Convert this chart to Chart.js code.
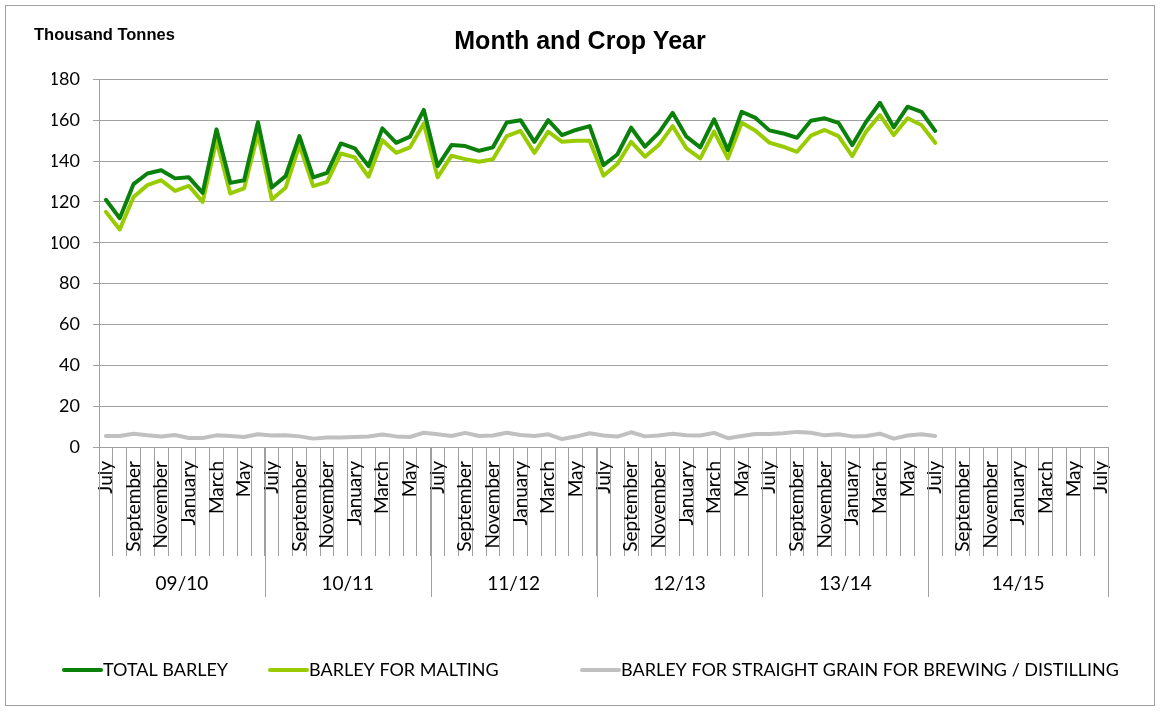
<!DOCTYPE html>
<html><head><meta charset="utf-8">
<script src="https://cdn.jsdelivr.net/npm/chart.js@4.4.0/dist/chart.umd.min.js"></script>
<style>html,body{margin:0;padding:0;background:#fff;}canvas{display:block;}</style>
</head><body>
<canvas id="c" width="1160" height="711"></canvas>
<script>
const cropYears = ['09/10','10/11','11/12','12/13','13/14','14/15'];
const monthNames = ['July','August','September','October','November','December','January','February','March','April','May','June'];
const monthsPerYear = [12,12,12,12,12,13];
const totalBarley = [121,112,128.7,133.9,135.5,131.5,132,124.4,155.5,129.3,130.6,159,
  127,132.6,152.2,132,134.2,148.6,146.2,137.5,156,148.9,151.9,165,
  137.5,147.8,147.3,145,146.7,158.9,160,149.4,160,152.7,155.2,157.1,
  138,143.2,156.3,147,153.8,163.6,151.9,146.7,160.4,145.3,164.1,161.1,
  155,153.5,151.4,159.7,160.9,158.7,147.8,159.2,168.5,156.5,166.6,164.1,
  154.7];
const maltingBarley = [115.1,106.5,122.4,128.2,130.6,125.4,127.8,120,150.2,124.1,126.6,153.5,
  121.2,126.9,147.8,127.7,129.8,143.7,141.8,132.3,150.2,144,146.7,158.4,
  132,142.6,140.9,139.6,140.9,152.2,154.7,144,154.4,149.4,149.9,149.9,
  132.8,138.5,149.4,142.1,147.8,157.1,146.2,141.3,154.4,141.3,158.7,154.8,
  149,147,144.5,152.4,155.2,152.2,142.4,154.4,162.5,152.7,160.9,157.6,
  148.9];
const straightGrain = [5.4,5.4,6.5,5.7,5.1,5.9,4.4,4.4,5.7,5.4,4.9,6.2,
  5.6,5.7,5.2,4.1,4.6,4.7,4.9,5.1,6.1,5.2,4.9,7.0,
  6.2,5.4,6.9,5.4,5.6,7.0,5.9,5.4,6.2,3.9,5.1,6.7,
  5.6,5.1,7.2,5.2,5.6,6.5,5.7,5.6,6.9,4.3,5.4,6.4,
  6.4,6.7,7.4,7.0,5.7,6.2,5.2,5.4,6.5,4.1,5.6,6.2,
  5.4];
const yMin = 0, yMax = 180, yStep = 20;

// build categories
const categories = [], groupOf = [];
cropYears.forEach((yr, g) => {
  for (let k = 0; k < monthsPerYear[g]; k++) { categories.push(monthNames[k % 12]); groupOf.push(g); }
});

const gridColor = '#A0A0A0';
const labelFont = 'Lato';
const legendStarts = [62, 268, 580];

const extras = {
  id: 'extras',
  afterDraw(chart) {
    const {ctx, chartArea} = chart;
    const x = chart.scales.x;
    ctx.save();
    ctx.strokeStyle = gridColor; ctx.lineWidth = 1;
    ctx.strokeRect(5.5, 5.5, 1149, 700);
    ctx.fillStyle = '#000';
    ctx.font = 'bold 16.5px "Liberation Sans"';
    ctx.textAlign = 'left'; ctx.textBaseline = 'alphabetic';
    ctx.fillText('Thousand Tonnes', 34, 40);
    const half = (x.getPixelForValue(1) - x.getPixelForValue(0)) / 2;
    const top = chartArea.bottom;
    let start = 0;
    ctx.font = '19px ' + labelFont;
    ctx.textAlign = 'center'; ctx.textBaseline = 'middle';
    cropYears.forEach((yr, g) => {
      const n = monthsPerYear[g];
      const left = x.getPixelForValue(start) - half;
      const right = x.getPixelForValue(start + n - 1) + half;
      ctx.beginPath();
      ctx.moveTo(Math.round(left) + 0.5, top); ctx.lineTo(Math.round(left) + 0.5, top + 150);
      if (g === cropYears.length - 1) { ctx.moveTo(Math.round(right) + 0.5, top); ctx.lineTo(Math.round(right) + 0.5, top + 150); }
      ctx.stroke();
      ctx.fillText(yr, (left + right) / 2, top + 137);
      start += n;
    });
    // legend
    ctx.font = '18px ' + labelFont;
    ctx.textAlign = 'left';
    ctx.lineCap = 'round';
    chart.data.datasets.forEach((ds, i) => {
      const sx = legendStarts[i], cy = 670;
      ctx.strokeStyle = ds.borderColor; ctx.lineWidth = 4;
      ctx.beginPath(); ctx.moveTo(sx + 2, cy); ctx.lineTo(sx + 39, cy); ctx.stroke();
      ctx.fillStyle = '#000';
      ctx.fillText(ds.label, sx + 41, cy);
    });
    ctx.restore();
  }
};

new Chart(document.getElementById('c'), {
  type: 'line',
  data: {
    labels: categories,
    datasets: [
      {label: 'TOTAL BARLEY', data: totalBarley, borderColor: '#0B800B', backgroundColor: '#0B800B'},
      {label: 'BARLEY FOR MALTING', data: maltingBarley, borderColor: '#99CC00', backgroundColor: '#99CC00'},
      {label: 'BARLEY FOR STRAIGHT GRAIN FOR BREWING / DISTILLING', data: straightGrain, borderColor: '#C0C0C0', backgroundColor: '#C0C0C0'}
    ].map(d => Object.assign(d, {borderWidth: 4, pointRadius: 0, pointHoverRadius: 0, tension: 0, fill: false, borderJoinStyle: 'round', borderCapStyle: 'round'}))
  },
  options: {
    responsive: false, animation: false, devicePixelRatio: 1,
    layout: {padding: {left: 52, right: 52, top: 0, bottom: 0}},
    plugins: {
      title: {display: true, text: 'Month and Crop Year', color: '#000',
        font: {family: 'Liberation Sans', size: 25, weight: 'bold', lineHeight: 1.2},
        padding: {top: 27, bottom: 22.3}},
      legend: {display: false},
      tooltip: {enabled: false}
    },
    scales: {
      x: {
        offset: true,
        grid: {offset: true, drawOnChartArea: false, drawTicks: true, tickLength: 109, color: gridColor, lineWidth: 1},
        border: {display: true, color: gridColor, width: 1},
        ticks: {autoSkip: false, maxRotation: 90, minRotation: 90, padding: -95, color: '#000',
          font: {family: labelFont, size: 19},
          callback(v, i) { return i % 2 === 0 ? this.getLabelForValue(v) : ''; }},
        afterFit(s) { s.height = 711 - 447; }
      },
      y: {
        min: yMin, max: yMax,
        ticks: {stepSize: yStep, padding: 13, color: '#000', font: {family: labelFont, size: 18}},
        grid: {color: gridColor, tickLength: 6, drawTicks: true},
        border: {display: true, color: gridColor},
        afterFit(s) { s.width = 47; }
      }
    }
  },
  plugins: [extras]
});
</script>
</body></html>
